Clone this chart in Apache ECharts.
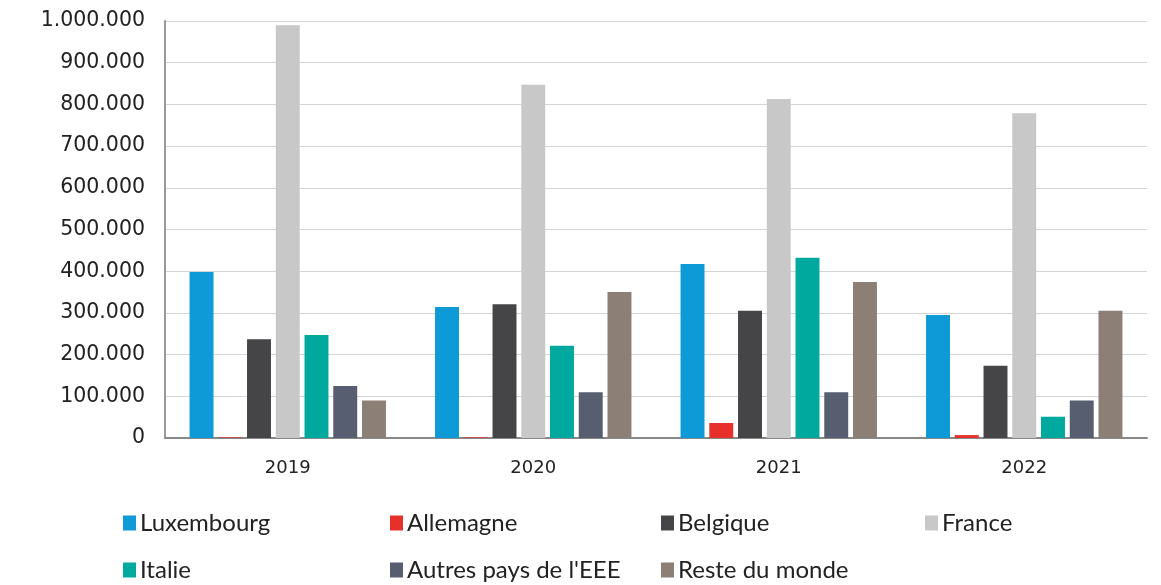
<!DOCTYPE html>
<html>
<head>
<meta charset="utf-8">
<script src="https://cdn.jsdelivr.net/npm/echarts@6/dist/echarts.min.js"></script>
<style>html,body{margin:0;padding:0;background:#fff}#c{width:1161px;height:585px}</style>
</head>
<body>
<div id="c"></div>
<script>
const categories = ['2019', '2020', '2021', '2022'];
const seriesNames = ['Luxembourg', 'Allemagne', 'Belgique', 'France', 'Italie', "Autres pays de l'EEE", 'Reste du monde'];
const luxembourg = [398000, 314000, 417000, 295000];
const allemagne = [1500, 1500, 36000, 7000];
const belgique = [237000, 321000, 305000, 173000];
const france = [990000, 847000, 813000, 779000];
const italie = [247000, 221000, 432000, 51000];
const autresEEE = [125000, 110000, 110000, 90000];
const resteMonde = [90000, 350000, 374000, 305000];
const colors = ['#0E9AD7', '#E8302A', '#454547', '#C8C8C8', '#00A99D', '#575E70', '#8C7F76'];

const values = [luxembourg, allemagne, belgique, france, italie, autresEEE, resteMonde];
const legendPos = [
  [118, 506], [385, 506], [656, 506], [920, 506],
  [118, 553], [385, 553], [656, 553]
];

function fmt(v) {
  return String(v).replace(/\B(?=(\d{3})+(?!\d))/g, '.');
}

const chart = echarts.init(document.getElementById('c'), null, {renderer: 'canvas'});
chart.setOption({
  animation: false,
  color: colors,
  grid: {left: 165, right: 14, top: 21, bottom: 147, containLabel: false},
  legend: seriesNames.map((n, i) => ({
    data: [n],
    left: legendPos[i][0],
    top: legendPos[i][1],
    icon: 'rect',
    itemWidth: 13,
    itemHeight: 15,
    itemGap: 6,
    selectedMode: false,
    textStyle: {fontFamily: 'Lato', fontSize: 24, color: '#222', padding: [0, 0, 0, -1]}
  })),
  xAxis: {
    type: 'category',
    data: categories,
    axisLine: {lineStyle: {color: '#888', width: 2}},
    axisTick: {show: false},
    axisLabel: {fontFamily: 'DejaVu Sans', fontSize: 18, color: '#222', margin: 21}
  },
  yAxis: {
    type: 'value',
    min: 0, max: 1000000, interval: 100000,
    axisLine: {show: true, lineStyle: {color: '#9a9a9a', width: 2}},
    axisTick: {show: false},
    splitLine: {lineStyle: {color: '#d4d4d4', width: 1}},
    axisLabel: {fontFamily: 'DejaVu Sans', fontSize: 20.5, color: '#222', margin: 20, formatter: fmt}
  },
  series: seriesNames.map((n, i) => ({
    name: n,
    type: 'bar',
    data: values[i],
    barGap: '20%',
    barCategoryGap: '20%',
    itemStyle: {color: colors[i]}
  }))
});
</script>
</body>
</html>
